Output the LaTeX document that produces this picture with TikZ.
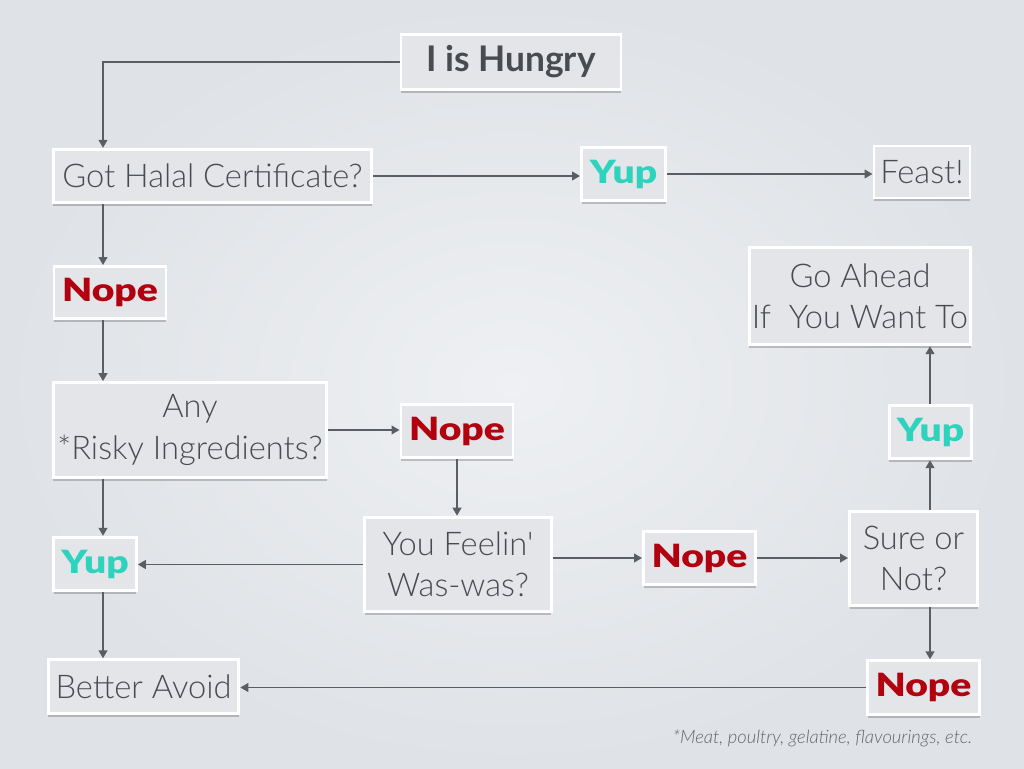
\documentclass[tikz,border=0pt]{standalone}
\usepackage{fontspec}
\setmainfont{Lato}
\newfontfamily\lightfont{Lato Light}
\newfontfamily\heavyfont{Lato Black}[FakeStretch=1.22]
\usetikzlibrary{shadows,arrows.meta,calc}
\definecolor{bgin}{HTML}{EEF0F3}
\definecolor{bgout}{HTML}{DFE2E6}
\definecolor{boxfill}{HTML}{E3E5E9}
\definecolor{txt}{HTML}{484B4F}
\definecolor{linec}{HTML}{5A5E62}
\definecolor{nopec}{HTML}{B3000F}
\definecolor{yupc}{HTML}{2ED3BE}
\tikzset{
  box/.style={draw=white, line width=2.2pt, fill=boxfill, inner sep=0pt,
    align=center, text=txt, font=\lightfont\fontsize{24.5}{31}\selectfont,
    drop shadow={shadow xshift=0pt, shadow yshift=-2.5pt, fill=black, opacity=0.2}},
  nopebox/.style={box, text=nopec, font=\heavyfont\fontsize{24}{28}\selectfont},
  yupbox/.style={box, text=yupc, font=\heavyfont\fontsize{24}{28}\selectfont},
  arr/.style={draw=linec, line width=1.4pt, -{Triangle[length=6pt,width=6.5pt]}},
}
\begin{document}
\begin{tikzpicture}[x=0.75pt,y=-0.75pt]
\shade[inner color=bgin, outer color=bgout] (0,0) rectangle (1024,768);
\useasboundingbox (0,0) rectangle (1024,768);
\coordinate (colL) at (103,0);
\coordinate (colR) at (930,0);
\node[box, minimum width=165pt, minimum height=41pt, font=\bfseries\fontsize{26.5}{30}\selectfont, text=txt] (hungry) at (511,62) {I is Hungry};
\node[box, minimum width=239pt, minimum height=40pt] (halal) at (212.5,176) {Got Halal Certificate?};
\node[yupbox, minimum width=63pt, minimum height=40pt] (yup1) at (623.5,174) {Yup};
\node[box, minimum width=72pt, minimum height=39pt] (feast) at (922,172) {Feast!};
\node[nopebox, minimum width=84pt, minimum height=39pt] (nope1) at (110,292.5) {Nope};
\node[box, minimum width=166pt, minimum height=73pt] (goahead) at (860,296) {Go Ahead\\If\ \ You Want To};
\node[box, minimum width=205pt, minimum height=71pt] (any) at (190,430) {Any\\*Risky Ingredients?};
\node[nopebox, minimum width=84pt, minimum height=40pt] (nope2) at (457,431) {Nope};
\node[yupbox, minimum width=62pt, minimum height=40pt] (yup2) at (930.5,432) {Yup};
\node[yupbox, minimum width=62pt, minimum height=40pt] (yup3) at (95,564) {Yup};
\node[box, minimum width=140pt, minimum height=71pt] (feelin) at (458,564.5) {You Feelin'\\Was-was?};
\node[nopebox, minimum width=84pt, minimum height=40pt] (nope3) at (699.5,558) {Nope};
\node[box, minimum width=96pt, minimum height=71pt] (sure) at (913.5,558.5) {Sure or\\Not?};
\node[box, minimum width=143pt, minimum height=40pt] (avoid) at (143.5,686.5) {Better Avoid};
\node[nopebox, minimum width=84pt, minimum height=40pt] (nope4) at (923.5,687.5) {Nope};
\node[anchor=east, text=txt!85, font=\lightfont\itshape\fontsize{13.8}{16}\selectfont] (foot) at (977,738) {*Meat, poultry, gelatine, flavourings, etc.};
\draw[arr] (hungry.west) -| (halal.north -| colL);
\draw[arr] (halal.east) -- (halal.east -| yup1.west);
\draw[arr] (yup1.east) -- (yup1.east -| feast.west);
\draw[arr] (halal.south -| colL) -- (nope1.north -| colL);
\draw[arr] (nope1.south -| colL) -- (any.north -| colL);
\draw[arr] (any.east) -- (any.east -| nope2.west);
\draw[arr] (nope2.south) -- (feelin.north -| nope2.south);
\draw[arr] (any.south -| colL) -- (yup3.north -| colL);
\draw[arr] (feelin.west) -- (feelin.west -| yup3.east);
\draw[arr] (yup3.south -| colL) -- (avoid.north -| colL);
\draw[arr] (feelin.east |- nope3.west) -- (nope3.west);
\draw[arr] (nope3.east) -- (nope3.east -| sure.west);
\draw[arr] (sure.north -| colR) -- (yup2.south -| colR);
\draw[arr] (yup2.north -| colR) -- (goahead.south -| colR);
\draw[arr] (sure.south -| colR) -- (nope4.north -| colR);
\draw[arr] (nope4.west) -- (nope4.west -| avoid.east);
\end{tikzpicture}
\end{document}
